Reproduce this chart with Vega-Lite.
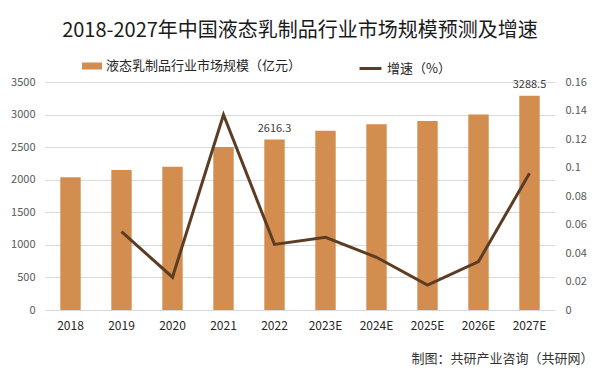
{
  "$schema": "https://vega.github.io/schema/vega-lite/v6.json",
  "width": 510,
  "height": 228,
  "autosize": {"type": "none"},
  "padding": {"left": 45, "top": 82, "right": 45, "bottom": 65},
  "background": "white",
  "config": {
    "font": "Noto Sans CJK SC",
    "view": {"stroke": null},
    "axis": {"labelFont": "Noto Sans CJK SC"},
    "legend": {"labelFont": "Noto Sans CJK SC"}
  },
  "title": {
    "text": "2018-2027年中国液态乳制品行业市场规模预测及增速",
    "font": "Noto Sans CJK SC",
    "fontSize": 20,
    "fontWeight": "normal",
    "color": "#1a1a1a",
    "anchor": "middle",
    "frame": "group",
    "offset": 15
  },
  "data": {
    "values": [
      {"year": "2018", "size": 2038, "growth": null, "label": ""},
      {"year": "2019", "size": 2150, "growth": 0.055, "label": ""},
      {"year": "2020", "size": 2200, "growth": 0.023, "label": ""},
      {"year": "2021", "size": 2501, "growth": 0.137, "label": ""},
      {"year": "2022", "size": 2616.3, "growth": 0.046, "label": "2616.3"},
      {"year": "2023E", "size": 2750, "growth": 0.051, "label": ""},
      {"year": "2024E", "size": 2852, "growth": 0.037, "label": ""},
      {"year": "2025E", "size": 2902, "growth": 0.0175, "label": ""},
      {"year": "2026E", "size": 3000, "growth": 0.034, "label": ""},
      {"year": "2027E", "size": 3288.5, "growth": 0.096, "label": "3288.5"}
    ]
  },
  "encoding": {
    "x": {
      "field": "year",
      "type": "ordinal",
      "sort": null,
      "scale": {"paddingInner": 0.6, "paddingOuter": 0.3},
      "axis": {
        "labelAngle": 0,
        "labelFontSize": 12,
        "labelColor": "#262626",
        "labelPadding": 10,
        "ticks": false,
        "domain": false,
        "title": "制图：共研产业咨询（共研网）",
        "titleFont": "Noto Sans CJK SC",
        "titleFontSize": 13,
        "titleFontWeight": "normal",
        "titleColor": "#333333",
        "titleAnchor": "end",
        "titleAlign": "right",
        "titleBaseline": "middle",
        "titleX": 548,
        "titleY": 48
      }
    }
  },
  "layer": [
    {
      "mark": {"type": "bar"},
      "encoding": {
        "y": {
          "field": "size",
          "type": "quantitative",
          "scale": {"domain": [0, 3500]},
          "axis": {
            "values": [0, 500, 1000, 1500, 2000, 2500, 3000, 3500],
            "format": "d",
            "title": null,
            "grid": true,
            "gridColor": "#d9d9d9",
            "domain": false,
            "ticks": false,
            "labelPadding": 10,
            "labelFontSize": 11,
            "labelColor": "#595959"
          }
        },
        "color": {
          "datum": "液态乳制品行业市场规模（亿元）",
          "type": "nominal",
          "scale": {"range": ["#D38D4F"]},
          "legend": {
            "title": null,
            "orient": "none",
            "legendX": 37,
            "legendY": -26,
            "symbolType": "M-1,-0.35H1V0.35H-1Z",
            "symbolSize": 400,
            "symbolStrokeWidth": 0,
            "labelFontSize": 13,
            "labelLimit": 400,
            "labelColor": "#262626"
          }
        }
      }
    },
    {
      "mark": {"type": "text", "dy": -11, "fontSize": 11, "color": "#404040"},
      "encoding": {
        "y": {"field": "size", "type": "quantitative", "scale": {"domain": [0, 3500]}, "axis": null},
        "text": {"field": "label"}
      }
    },
    {
      "mark": {"type": "line", "strokeWidth": 3, "color": "#5C3D24"},
      "encoding": {
        "y": {
          "field": "growth",
          "type": "quantitative",
          "scale": {"domain": [0, 0.16]},
          "axis": {
            "orient": "right",
            "values": [0, 0.02, 0.04, 0.06, 0.08, 0.1, 0.12, 0.14, 0.16],
            "format": ".2~f",
            "title": null,
            "grid": false,
            "domain": false,
            "ticks": false,
            "labelPadding": 10,
            "labelFontSize": 11,
            "labelColor": "#595959"
          }
        },
        "stroke": {
          "datum": "增速（%）",
          "type": "nominal",
          "scale": {"range": ["#5C3D24"]},
          "legend": {
            "title": null,
            "orient": "none",
            "legendX": 313,
            "legendY": -26,
            "symbolType": "stroke",
            "symbolStrokeWidth": 3,
            "symbolSize": 480,
            "labelFontSize": 13,
            "labelLimit": 300,
            "labelColor": "#262626"
          }
        }
      }
    }
  ],
  "resolve": {"scale": {"y": "independent", "color": "independent", "stroke": "independent"}}
}
